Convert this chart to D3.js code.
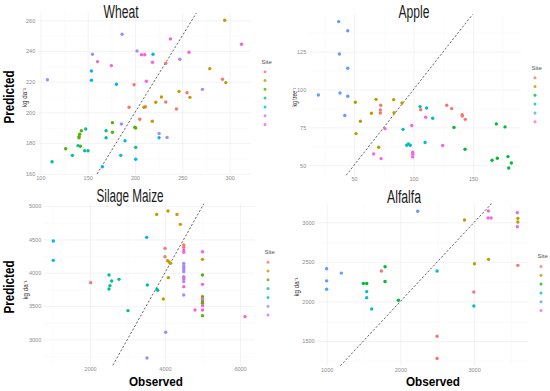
<!DOCTYPE html>
<html>
<head>
<meta charset="utf-8">
<script src="https://cdn.jsdelivr.net/npm/d3@7"></script>
<style>
  body { margin: 0; background: #fff; }
  text { font-family: "Liberation Sans", Arial, sans-serif; }
</style>
</head>
<body>
<svg id="chart" width="550" height="391"></svg>
<script>
// ---- data: [site index, observed, predicted] ----
const wheatData = [
  [0,199,218],[0,193.7,203.3],[0,205,195.5],[0,211,203.7],[0,232.5,232],[0,232.5,206.8],[0,243.7,202.2],[0,254.9,212.8],[0,292.4,221.6],
  [1,294.8,260],[1,279,228.5],[1,295.9,219.4],[1,246.5,213.7],[1,258,209.8],[1,227.9,210],[1,221.9,206.6],[1,218.2,194.2],[1,209.5,203.3],
  [2,126.7,176.3],[2,143.3,188],[2,141.5,185.7],[2,140.8,184.1],[2,140.8,183.5],[2,142.3,177.9],[2,176.1,193.3],[2,176.1,187],[2,199.7,190.3],[2,200.7,189.8],
  [3,112.3,167.8],[3,133.8,172],[3,146.8,175],[3,150.3,175],[3,147.9,189.2],[3,139.8,178.3],[3,169.4,188],[3,169.4,183.5],[3,200.7,177.2],
  [4,153.9,227],[4,153.9,220.9],[4,180.3,218.3],[4,219,237.9],[4,189.4,181.5],[4,184.9,172],[4,225.4,183.5],[4,200.7,169.4],[4,165.5,164.6],
  [5,107.4,221.3],[5,155,237.9],[5,186.3,250.9],[5,202.1,240],[5,185.6,192.4],[5,225.4,186.3],[5,233.8,183.7],[5,247.3,234.6],[5,271.2,215],
  [6,160.3,233.1],[6,175,230.5],[6,206.8,237.6],[6,210.3,237.6],[6,218.4,232.7],[6,212,220.3],[6,237.4,247.9],[6,257,239.2],[6,312.5,244.4]
];
const appleData = [
  [0,72.4,89.6],[0,72.1,86.5],[0,72.1,84.5],[0,106,86.7],[0,127.9,89.6],[0,132,87.4],[0,140.8,83.4],[0,141,82.5],[0,143.5,80.3],
  [1,51.1,91.6],[1,68.5,93.5],[1,83.3,93.3],[1,90.3,91.1],[1,64.6,84.3],[1,83.6,84.7],[1,55.3,79],[1,51.7,70.9],[1,70.7,61.9],
  [2,134,75],[2,143.3,60.6],[2,169.6,77.3],[2,176.9,75.3],[2,166,53.3],[2,170.4,54.6],[2,179.4,55.7],[2,182.2,51.5],[2,180,48.2],
  [3,105.5,88.7],[3,111,87.8],[3,116.1,81],[3,91.2,73.7],[3,94.3,63.2],[3,95.7,64.1],[3,97.3,63.2],[3,109.7,65],
  [4,37.1,144.8],[4,44.7,138.8],[4,37.7,123.4],[4,44.7,114],[4,38.2,97.7],[4,44.7,95.5],[4,20,96.4],[4,42.2,82.8],
  [5,110.2,81.7],[5,98.5,76.2],[5,76,74.2],[5,99.3,58.6],[5,99.3,57.3],[5,99.3,55.5],[5,124.5,63],[5,66.5,57.5],[5,72.7,54.4]
];
const maizeData = [
  [0,2018,3850],[0,4000,4365],[0,4000,4240],[0,4500,4415],[0,4500,4380],[0,4500,3930],
  [1,3778,4875],[1,4080,4925],[1,4320,4875],[1,4409,4725],[1,4070,4180],[1,4110,4160],[1,4150,4140],[1,4090,3925],[1,3955,3605],[1,5000,4200],
  [2,5000,3965],[2,5000,3640],[2,5000,3575],[2,5000,3540],[2,5000,3355],
  [3,2507,3965],[3,2578,3875],[3,2533,3805],[3,2507,3755],[3,2773,3900],[3,3013,3430],[3,3529,3815],[3,3787,3750],[3,3805,3735],
  [4,1022,4475],[4,1022,4185],[4,3511,4530],
  [5,4500,4140],[5,4500,4105],[5,4500,4075],[5,4500,4045],[5,4500,4015],[5,4500,3940],[5,4500,3865],[5,4500,3665],[5,4018,3105],[5,3520,2720],
  [6,4500,4340],[6,4500,4305],[6,4500,3905],[6,4500,3790],[6,5000,4315],[6,5000,3825],[6,5000,3605],[6,5000,3505],[6,5000,3440],[6,4800,3440],[6,6133,3340]
];
const alfalfaData = [
  [0,1742,2384],[0,2498,1559],[0,2498,1279],[0,2996,2120],[0,3593,2456],
  [1,2869,3029],[1,3005,2477],[1,3195,2532],[1,3593,3051],[1,3593,3004],
  [2,1498,2226],[2,1543,2226],[2,1792,2439],[2,1792,2252],[2,1973,2014],
  [3,1543,2124],[3,1543,2048],[3,1611,1904],[3,2498,2384],[3,2996,1942],
  [4,1000,2413],[4,1000,2260],[4,1000,2154],[4,1199,2358],[4,2235,3140],
  [5,3193,3144],[5,3189,3055],[5,3230,3055],[5,3586,3123],[5,3586,2945]
];

const wheatXTicks = [100,150,200,250,300], wheatYTicks = [160,180,200,220,240,260];
const appleXTicks = [50,100,150], appleYTicks = [50,75,100,125];
const maizeXTicks = [2000,4000,6000], maizeYTicks = [3000,3500,4000,4500,5000];
const alfalfaXTicks = [1000,2000,3000], alfalfaYTicks = [1500,2000,2500,3000];

const hue7 = ['#F8766D','#C49A00','#53B400','#00C094','#00B6EB','#A58AFF','#FB61D7'];
const hue6 = ['#F8766D','#B79F00','#00BA38','#00BFC4','#619CFF','#F564E3'];

// ---- layout ----
const panels = [
  { title: 'Wheat', data: wheatData, colors: hue7, xt: wheatXTicks, yt: wheatYTicks,
    box: [37.7, 13, 251.2, 174], titleAt: [121, 18, 35], unit: 'kg da⁻¹', unitAt: [27, 97.5],
    predicted: [14, 97], observed: null, legend: [265, 63.5] },
  { title: 'Apple', data: appleData, colors: hue6, xt: appleXTicks, yt: appleYTicks,
    box: [308.7, 14.3, 521, 175.3], titleAt: [414, 18, 31], unit: 'kg tree⁻¹', unitAt: [297, 97],
    predicted: null, observed: null, legend: [535, 69.5] },
  { title: 'Silage Maize', data: maizeData, colors: hue7, xt: maizeXTicks, yt: maizeYTicks,
    box: [43.7, 203.7, 254.6, 365.3], titleAt: [130, 202, 67], unit: 'kg da⁻¹', unitAt: [27.5, 290],
    predicted: [14, 287], observed: [156, 386], legend: [268, 254] },
  { title: 'Alfalfa', data: alfalfaData, colors: hue6, xt: alfalfaXTicks, yt: alfalfaYTicks,
    box: [317.1, 203.6, 527.4, 365.8], titleAt: [404, 203, 34], unit: 'kg da⁻¹', unitAt: [298.5, 287],
    predicted: null, observed: [433, 386], legend: [541, 258.3] }
];

const svg = d3.select('#chart');
const fmt = d3.format('d');

// ggplot-like 5% expansion
function expand(ext) {
  const pad = (ext[1] - ext[0]) * 0.05;
  return [ext[0] - pad, ext[1] + pad];
}

function minorTicks(ticks, domain) {
  const step = ticks[1] - ticks[0];
  const out = [];
  for (let v = ticks[0] - step / 2; v <= domain[1]; v += step) if (v >= domain[0]) out.push(v);
  return out;
}

function drawPanel(p) {
  const [x0, y0, x1, y1] = p.box;
  const xs = d3.scaleLinear().domain(expand(d3.extent(p.data, d => d[1]))).range([x0, x1]);
  const ys = d3.scaleLinear().domain(expand(d3.extent(p.data, d => d[2]))).range([y1, y0]);
  const g = svg.append('g');

  // grid: minor then major
  const grid = (ticksX, ticksY, color, w) => {
    g.append('g').attr('transform', `translate(0,${y1})`)
      .call(d3.axisBottom(xs).tickValues(ticksX).tickSize(-(y1 - y0)).tickFormat(''))
      .call(a => a.select('.domain').remove())
      .selectAll('line').attr('stroke', color).attr('stroke-width', w);
    g.append('g').attr('transform', `translate(${x0},0)`)
      .call(d3.axisLeft(ys).tickValues(ticksY).tickSize(-(x1 - x0)).tickFormat(''))
      .call(a => a.select('.domain').remove())
      .selectAll('line').attr('stroke', color).attr('stroke-width', w);
  };
  grid(minorTicks(p.xt, xs.domain()), minorTicks(p.yt, ys.domain()), '#f4f4f4', 0.4);
  grid(p.xt, p.yt, '#ebebeb', 0.6);

  // 1:1 line
  const lo = Math.max(xs.domain()[0], ys.domain()[0]);
  const hi = Math.min(xs.domain()[1], ys.domain()[1]);
  g.append('line')
    .attr('x1', xs(lo)).attr('y1', ys(lo)).attr('x2', xs(hi)).attr('y2', ys(hi))
    .attr('stroke', '#555').attr('stroke-width', 0.9).attr('stroke-dasharray', '2.2,1.8');

  // points
  g.append('g').selectAll('circle').data(p.data).join('circle')
    .attr('cx', d => xs(d[1])).attr('cy', d => ys(d[2])).attr('r', 1.7)
    .attr('fill', d => p.colors[d[0]]);

  // axes text
  g.append('g').attr('transform', `translate(0,${y1})`)
    .call(d3.axisBottom(xs).tickValues(p.xt).tickFormat(fmt).tickSize(0).tickPadding(2))
    .call(a => a.select('.domain').remove())
    .selectAll('text').attr('font-size', 5.5).attr('fill', '#8a8a8a').attr('font-family', 'Liberation Sans, Arial, sans-serif');
  g.append('g').attr('transform', `translate(${x0},0)`)
    .call(d3.axisLeft(ys).tickValues(p.yt).tickFormat(fmt).tickSize(0).tickPadding(2.5))
    .call(a => a.select('.domain').remove())
    .selectAll('text').attr('font-size', 5.5).attr('fill', '#8a8a8a').attr('font-family', 'Liberation Sans, Arial, sans-serif');

  // title
  g.append('text').attr('x', p.titleAt[0]).attr('y', p.titleAt[1])
    .attr('text-anchor', 'middle').attr('font-size', 18).attr('fill', '#1a1a1a')
    .attr('textLength', p.titleAt[2]).attr('lengthAdjust', 'spacingAndGlyphs')
    .text(p.title);

  // unit label
  g.append('text').attr('transform', `translate(${p.unitAt[0]},${p.unitAt[1]}) rotate(-90)`)
    .attr('text-anchor', 'middle').attr('font-size', 6.5).attr('fill', '#333')
    .attr('textLength', 19).attr('lengthAdjust', 'spacingAndGlyphs')
    .text(p.unit);

  if (p.predicted) {
    g.append('text').attr('transform', `translate(${p.predicted[0]},${p.predicted[1]}) rotate(-90)`)
      .attr('text-anchor', 'middle').attr('font-size', 14.5).attr('font-weight', 'bold').attr('fill', '#000')
      .attr('textLength', 53).attr('lengthAdjust', 'spacingAndGlyphs')
      .text('Predicted');
  }
  if (p.observed) {
    g.append('text').attr('x', p.observed[0]).attr('y', p.observed[1])
      .attr('text-anchor', 'middle').attr('font-size', 13.5).attr('font-weight', 'bold').attr('fill', '#000')
      .attr('textLength', 54).attr('lengthAdjust', 'spacingAndGlyphs')
      .text('Observed');
  }

  // legend (keys only)
  const [lx, ly] = p.legend;
  g.append('text').attr('x', lx - 3.5).attr('y', ly).attr('font-size', 6).attr('fill', '#555').text('Site');
  g.append('g').selectAll('circle').data(p.colors).join('circle')
    .attr('cx', lx).attr('cy', (d, i) => ly + 8.2 + i * 8.8).attr('r', 1.5)
    .attr('fill', d => d).attr('opacity', 0.8);
}

panels.forEach(drawPanel);
</script>
</body>
</html>
